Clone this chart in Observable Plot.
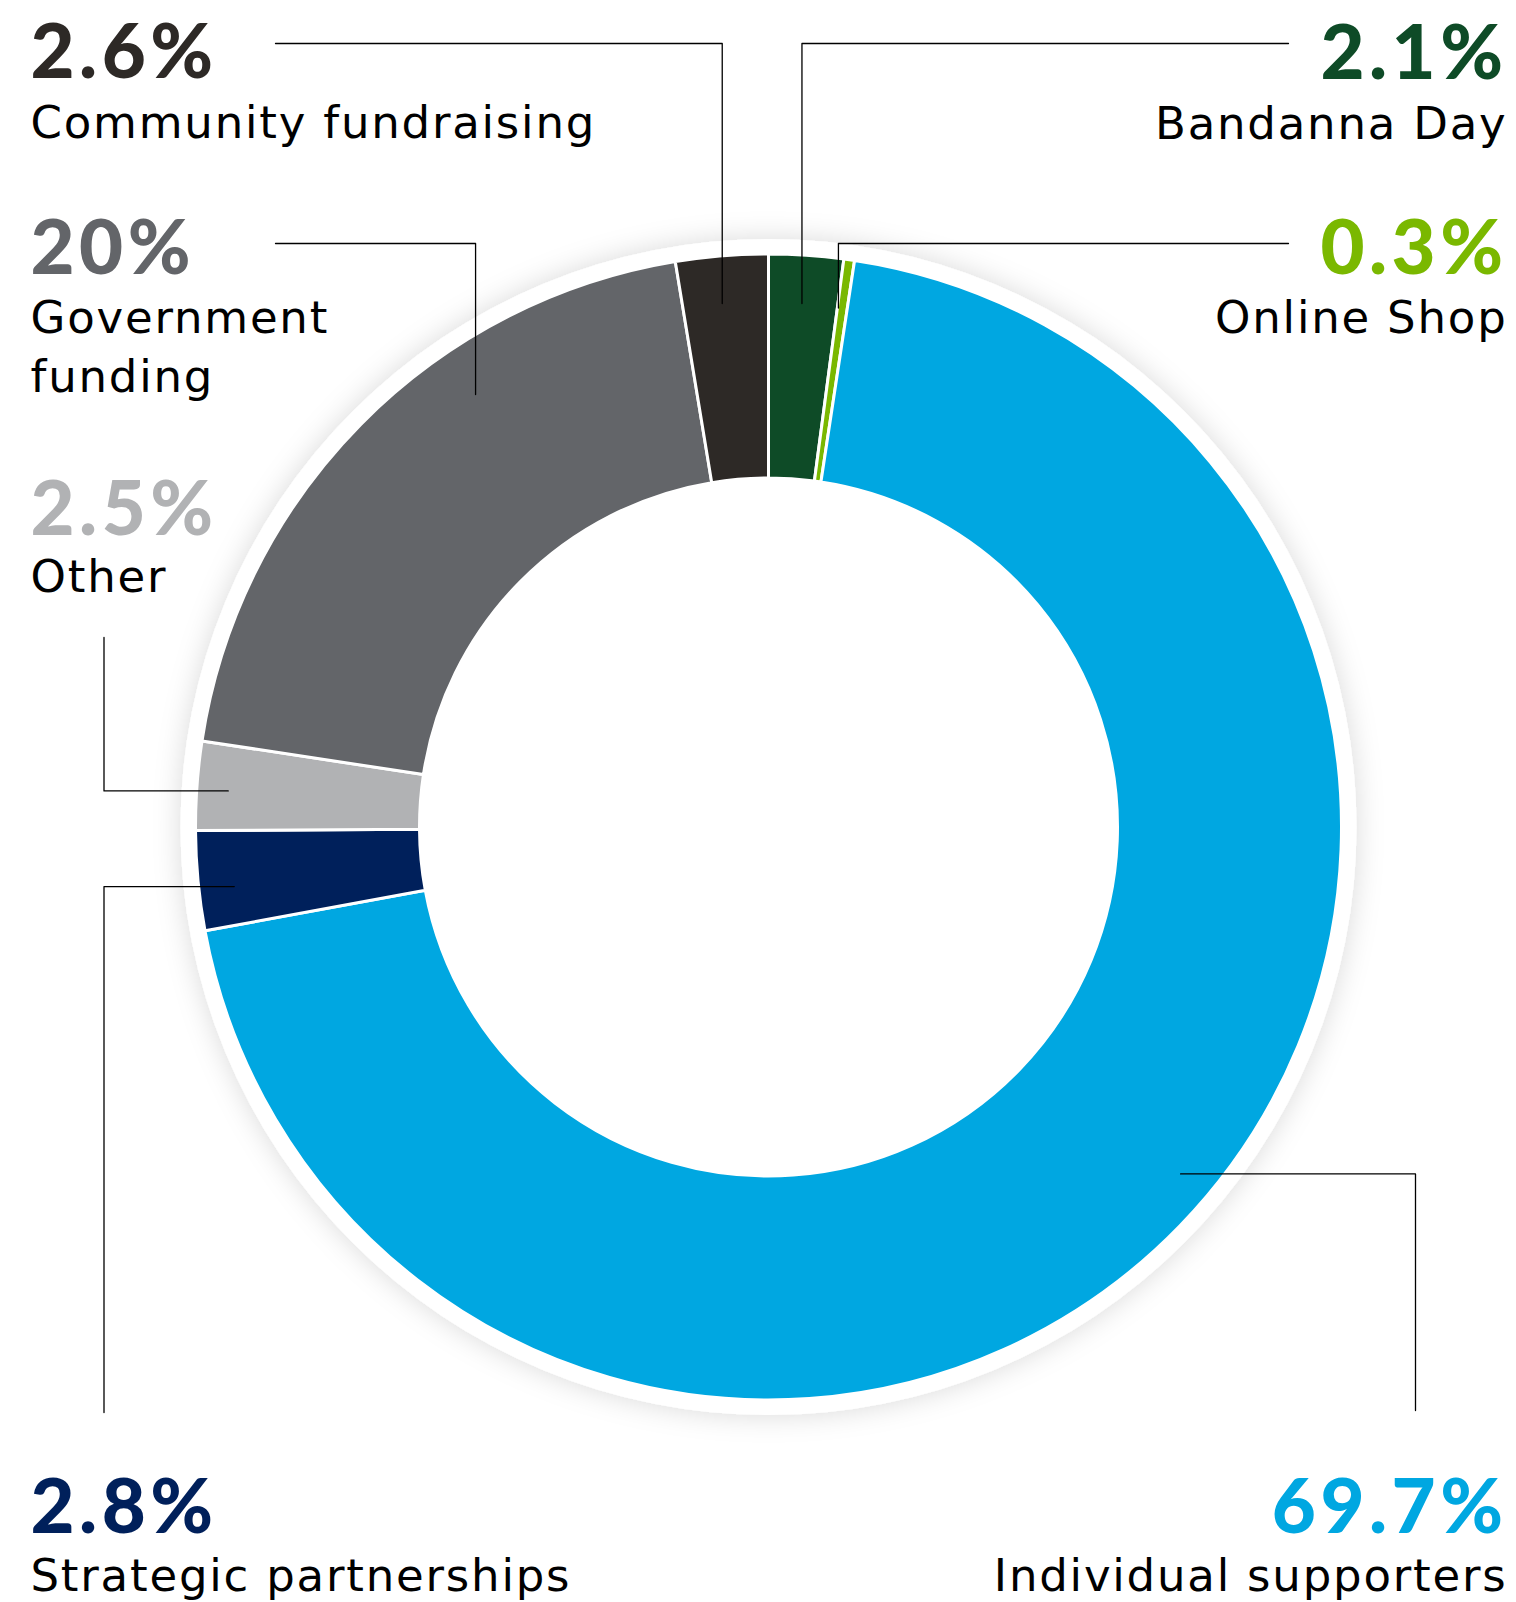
<!DOCTYPE html>
<html>
<head>
<meta charset="utf-8">
<script src="https://cdn.jsdelivr.net/npm/d3@7"></script>
<script src="https://cdn.jsdelivr.net/npm/@observablehq/plot@0.6"></script>
<style>
  html, body { margin: 0; padding: 0; background: #fff; }
  #chart svg { display: block; }
  g[font-size="45"] text { letter-spacing: 1.8px; }
  g[font-size="76"] text { letter-spacing: 4.5px; }
</style>
</head>
<body>
<div id="chart"></div>
<script>
// ---- data (clockwise from 12 o'clock) ----
const categories = ["Bandanna Day", "Online Shop", "Individual supporters", "Strategic partnerships", "Other", "Government funding", "Community fundraising"];
const values = [2.1, 0.3, 69.7, 2.8, 2.5, 20, 2.6];
const valueLabels = ["2.1%", "0.3%", "69.7%", "2.8%", "2.5%", "20%", "2.6%"];
const nameLabels = ["Bandanna Day", "Online Shop", "Individual supporters", "Strategic partnerships", "Other", "Government\nfunding", "Community fundraising"];
const colors = ["#0e4b27", "#7ab800", "#00a7e1", "#00205b", "#b1b2b4", "#636569", "#2d2926"];

// ---- layout ----
const W = 1516, H = 1602;
const center = {x: 768.5, y: 827};
const radii = {inner: 349, outer: 573, ring: 588};
const layout = [
  {side: "right", x: 1507, pctY: 78,   labelY: 138,  leader: {kind: "h", x: 1288, y: 43},   frac: 0.476, r: 525},
  {side: "right", x: 1507, pctY: 273,  labelY: 332,  leader: {kind: "h", x: 1288, y: 243},  frac: 0.05,  r: 524},
  {side: "right", x: 1507, pctY: 1532, labelY: 1590, leader: {kind: "v", x: 1415, y: 1410}, frac: 0.484, r: 538},
  {side: "left",  x: 30,   pctY: 1532, labelY: 1590, leader: {kind: "v", x: 103.5, y: 1412}, frac: 0.41, r: 538},
  {side: "left",  x: 30,   pctY: 534,  labelY: 591,  leader: {kind: "v", x: 103.5, y: 637},  frac: 0.47, r: 542},
  {side: "left",  x: 30,   pctY: 273,  labelY: 391,  leader: {kind: "h", x: 275, y: 243},    frac: 0.656, r: 523},
  {side: "left",  x: 30,   pctY: 77,   labelY: 137,  leader: {kind: "h", x: 275, y: 43},     frac: 0.455, r: 526}
];

const arcs = d3.pie().sort(null).value(d => d)(values);

const rows = categories.map((c, i) => ({
  category: c, value: values[i], pct: valueLabels[i], name: nameLabels[i], color: colors[i], ...layout[i]
}));

// leader lines from label to a point inside its slice
const leaders = [];
rows.forEach((d, i) => {
  const a = arcs[i];
  const theta = a.startAngle + d.frac * (a.endAngle - a.startAngle);
  const ax = center.x + d.r * Math.sin(theta);
  const ay = center.y - d.r * Math.cos(theta);
  const s = d.leader;
  const elbow = s.kind === "h" ? {x: ax, y: s.y} : {x: s.x, y: ay};
  [{x: s.x, y: s.y}, elbow, {x: ax, y: ay}].forEach(p => leaders.push({category: d.category, ...p}));
});

// donut drawn through the plot's scales
const donutMark = (...args) => {
  const scales = args.find(a => a && typeof a.x === "function" && typeof a.y === "function");
  const cx = scales.x(center.x), cy = scales.y(center.y);
  const px = r => scales.x(center.x + r) - cx;
  const g = d3.create("svg:g");
  const f = g.append("defs").append("filter").attr("id", "ringShadow")
    .attr("x", "-20%").attr("y", "-20%").attr("width", "140%").attr("height", "140%");
  f.append("feDropShadow").attr("dx", 0).attr("dy", 0).attr("stdDeviation", 14)
    .attr("flood-color", "#000").attr("flood-opacity", 0.15);
  g.append("circle").attr("cx", cx).attr("cy", cy).attr("r", px(radii.ring))
    .attr("fill", "#fff").attr("filter", "url(#ringShadow)");
  const arc = d3.arc().innerRadius(px(radii.inner)).outerRadius(px(radii.outer));
  g.append("g").attr("transform", `translate(${cx},${cy})`)
    .selectAll("path").data(arcs).join("path")
    .attr("d", arc)
    .attr("fill", (d, i) => colors[i])
    .attr("stroke", "#fff").attr("stroke-width", 3);
  return g.node();
};

const left = rows.filter(d => d.side === "left");
const right = rows.filter(d => d.side === "right");

const pctOpts = (anchor) => ({x: "x", y: "pctY", text: "pct", fill: d => d.color, textAnchor: anchor, lineAnchor: "bottom",
  fontFamily: "Lato", fontWeight: 900, fontSize: 76});
const nameOpts = (anchor) => ({x: "x", y: "labelY", text: "name", fill: "#000", textAnchor: anchor, lineAnchor: "bottom",
  fontFamily: "DejaVu Sans", fontWeight: 400, fontSize: 45, lineHeight: 1.31});

const chart = Plot.plot({
  width: W, height: H, margin: 0,
  x: {domain: [0, W], range: [0, W], axis: null},
  y: {domain: [0, H], range: [0, H], axis: null},
  color: {type: "identity"},
  style: {background: "#fff", overflow: "hidden"},
  marks: [
    donutMark,
    Plot.line(leaders, {x: "x", y: "y", z: "category", stroke: "#000", strokeWidth: 1.3}),
    Plot.text(left, pctOpts("start")),
    Plot.text(right, pctOpts("end")),
    Plot.text(left, nameOpts("start")),
    Plot.text(right, nameOpts("end"))
  ]
});
document.getElementById("chart").append(chart);
</script>
</body>
</html>
